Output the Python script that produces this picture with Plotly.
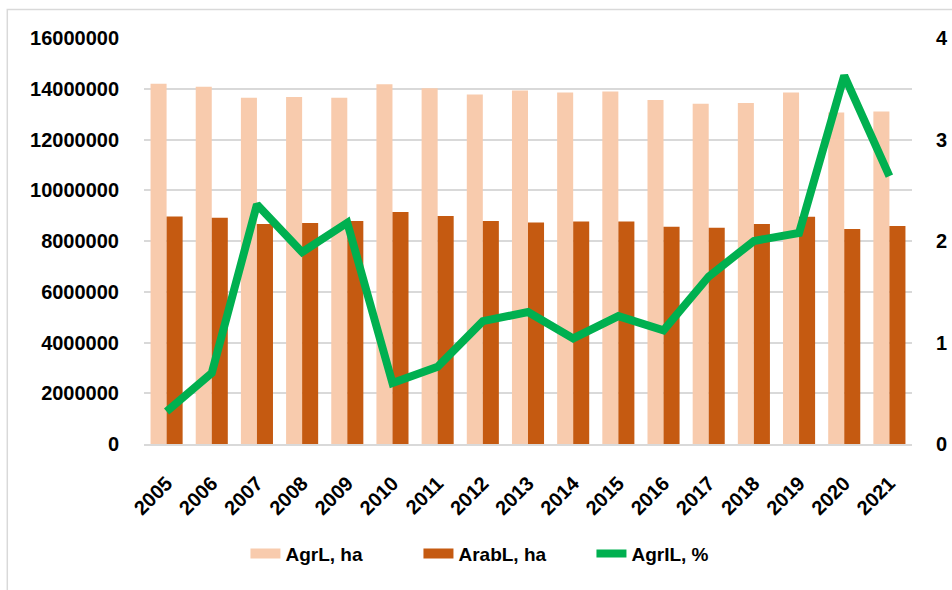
import plotly.graph_objects as go

years = [str(y) for y in range(2005, 2022)]
agrl_ha = [14200000, 14080000, 13650000, 13670000, 13650000, 14180000, 14020000, 13770000,
           13930000, 13850000, 13890000, 13560000, 13410000, 13440000, 13850000, 13060000, 13100000]
arabl_ha = [8970000, 8920000, 8670000, 8710000, 8790000, 9140000, 8990000, 8790000,
            8730000, 8770000, 8770000, 8560000, 8520000, 8670000, 8960000, 8470000, 8590000]
agril_pct = [0.32, 0.70, 2.36, 1.89, 2.18, 0.60, 0.76, 1.21, 1.30, 1.04, 1.26, 1.12,
             1.65, 2.00, 2.08, 3.63, 2.64]
left_ticks = [0, 2000000, 4000000, 6000000, 8000000, 10000000, 12000000, 14000000, 16000000]
right_ticks = [0, 1, 2, 3, 4]

FONT = "Liberation Sans"
C_AGRL = "#F8CBAD"
C_ARABL = "#C55A11"
C_LINE = "#00B050"

fig = go.Figure()
fig.add_trace(go.Bar(x=years, y=agrl_ha, name="AgrL, ha", marker_color=C_AGRL,
                     marker_line_width=0, showlegend=False))
fig.add_trace(go.Bar(x=years, y=arabl_ha, name="ArabL, ha", marker_color=C_ARABL,
                     marker_line_width=0, showlegend=False))
fig.add_trace(go.Scatter(x=years, y=agril_pct, name="AgrIL, %", yaxis="y2", mode="lines",
                         line=dict(color=C_LINE, width=8), showlegend=False))
# legend-only entries (wide swatches like the reference)
fig.add_trace(go.Scatter(x=[None], y=[None], name="AgrL, ha", mode="lines",
                         line=dict(color=C_AGRL, width=15)))
fig.add_trace(go.Scatter(x=[None], y=[None], name="ArabL, ha", mode="lines",
                         line=dict(color=C_ARABL, width=15)))
fig.add_trace(go.Scatter(x=[None], y=[None], name="AgrIL, %", mode="lines",
                         line=dict(color=C_LINE, width=8)))

fig.update_layout(
    width=952, height=590,
    margin=dict(l=144, r=40, t=38, b=146, autoexpand=False),
    paper_bgcolor="white", plot_bgcolor="white",
    barmode="group", bargap=0.29, bargroupgap=0,
    font=dict(family=FONT, size=18, color="black"),
    xaxis=dict(tickangle=-45, tickfont=dict(family=FONT, size=20, color="black", weight="bold"),
               showgrid=False, showline=True, linecolor="#D9D9D9", linewidth=1.5,
               ticks="", ticklabelstandoff=18, automargin=False),
    yaxis=dict(range=[0, 16000000], tickvals=left_ticks, ticktext=[str(v) for v in left_ticks],
               tickfont=dict(family=FONT, size=20, color="black", weight="bold"),
               showgrid=True, gridcolor="#D9D9D9", gridwidth=1.5, zeroline=False,
               showline=False, ticks="", ticklabelstandoff=24, automargin=False),
    yaxis2=dict(range=[0, 4], tickvals=right_ticks, overlaying="y", side="right",
                tickfont=dict(family=FONT, size=20, color="black", weight="bold"),
                showgrid=False, zeroline=False, showline=False, ticks="",
                ticklabelstandoff=23, automargin=False),
    legend=dict(orientation="h", x=0.47, xanchor="center", y=-0.27, yanchor="middle",
                font=dict(family=FONT, size=19, color="black", weight="bold"),
                traceorder="normal", entrywidth=128, entrywidthmode="pixels"),
    shapes=[dict(type="rect", xref="paper", yref="paper", x0=-0.178, x1=1.2, y0=-0.5, y1=1.07,
                 line=dict(color="#D9D9D9", width=1.5), fillcolor="rgba(0,0,0,0)", layer="below")],
)

fig.write_html("out.html", config={"displayModeBar": False},
               post_script="document.body.style.margin='0';document.body.style.overflow='hidden';")
